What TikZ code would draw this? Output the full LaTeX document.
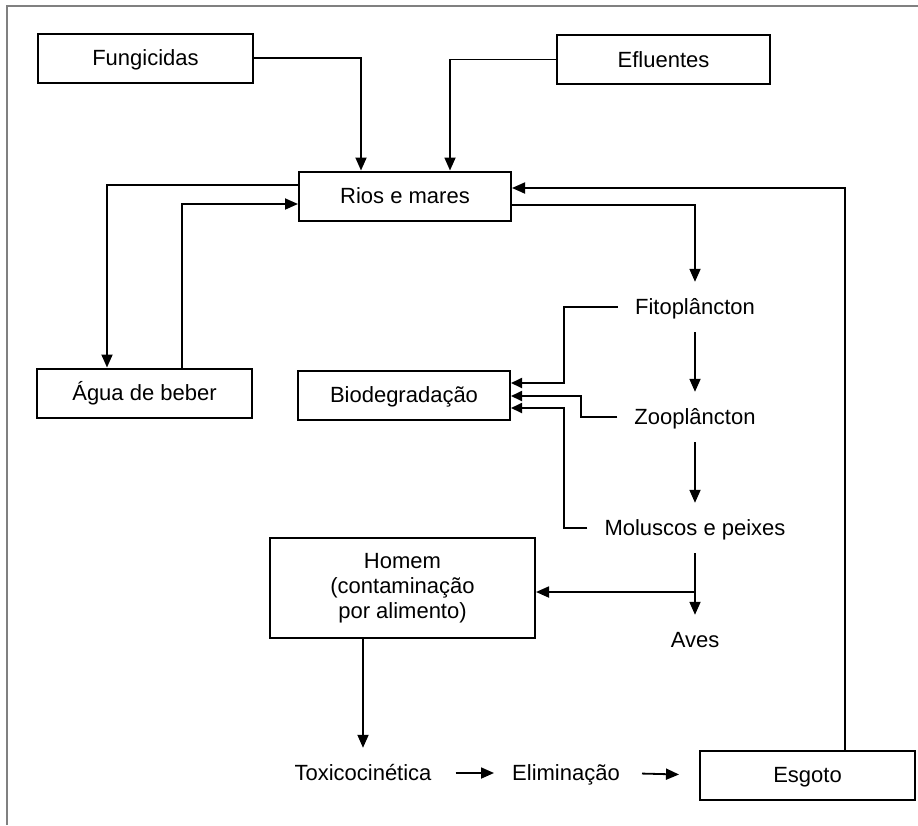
\documentclass[tikz,border=0pt]{standalone}
\usepackage{fontspec}
\setmainfont{Liberation Sans}
\usetikzlibrary{arrows.meta}
\begin{document}
\begin{tikzpicture}[x=1pt,y=-1pt,
  font=\fontsize{22}{25}\selectfont,
  bx/.style={draw, line width=2pt, minimum width=#1, minimum height=49pt, inner sep=0pt, text height=18pt, text depth=3pt},
  lbl/.style={inner xsep=17pt, inner ysep=0pt, minimum height=50pt, text height=18pt, text depth=3pt},
  arr/.style={line width=1.8pt, -{Triangle[length=13pt,width=11pt]}},
  sarr/.style={line width=1.8pt, -{Triangle[length=11pt,width=10pt]}},
  frame/.style={draw=black!50, line width=1.5pt}
]
\useasboundingbox (0,0) rectangle (918,825);
\draw[frame] (7,825) -- (7,6) -- (918,6);

\node[bx=215pt] (fung) at (145.5,58) {Fungicidas};
\node[bx=213pt] (eflu) at (663.5,59.5) {Efluentes};
\node[bx=212pt] (rios) at (405,196) {Rios e mares};
\node[bx=215pt] (agua) at (144.5,393) {Água de beber};
\node[bx=212pt] (bio) at (404,395) {Biodegradação};
\node[draw, line width=2pt, minimum width=265pt, minimum height=100pt, align=center, inner sep=0pt] (homem) at (402.5,588) {Homem\\(contaminação\\por alimento)};
\node[bx=215pt] (esg) at (807.5,775) {Esgoto};
\node[lbl] (fito) at (695,307) {Fitoplâncton};
\node[lbl] (zoo) at (695,417) {Zooplâncton};
\node[lbl] (mol) at (695,528) {Moluscos e peixes};
\node[lbl] (aves) at (695,640) {Aves};
\node[lbl, inner xsep=0pt] (toxi) at (363,773) {Toxicocinética};
\node[lbl, inner xsep=0pt] (elim) at (566,773) {Eliminação};

\coordinate (cF) at (361,0);
\coordinate (cE) at (450,0);
\coordinate (cL) at (107,0);
\coordinate (cR) at (182,0);
\coordinate (cA) at (564,0);
\coordinate (cZ) at (581,0);
\coordinate (cS) at (845,0);

\draw[arr] (fung.east) -| (rios.north -| cF);
\draw[arr] (eflu.west) -| (rios.north -| cE);
\draw[arr] ([yshift=11pt]rios.west) -| (agua.north -| cL);
\draw[arr] (agua.north -| cR) |- ([yshift=-8pt]rios.west);
\draw[arr] ([yshift=-9pt]rios.east) -| (fito.north);
\draw[arr] (fito.south) -- (zoo.north);
\draw[arr] (zoo.south) -- (mol.north);
\draw[arr] (mol.south) -- (aves.north);
\draw[arr] ([yshift=-4pt]homem.east -| mol.south) -- ([yshift=-4pt]homem.east);
\draw[sarr] (fito.west) -- (fito.west -| cA) |- ([yshift=12pt]bio.east);
\draw[sarr] (zoo.west) -- (zoo.west -| cZ) |- ([yshift=-1pt]bio.east);
\draw[sarr] (mol.west) -- (mol.west -| cA) |- ([yshift=-13pt]bio.east);
\draw[arr] (homem.south -| toxi.north) -- (toxi.north);
\draw[arr, shorten <=24pt, shorten >=18pt] (toxi.east) -- (elim.west);
\draw[arr, shorten <=22pt, shorten >=20pt] (elim.east) -- (esg.west);
\draw[arr] (esg.north -| cS) |- ([yshift=8pt]rios.east);
\end{tikzpicture}
\end{document}
